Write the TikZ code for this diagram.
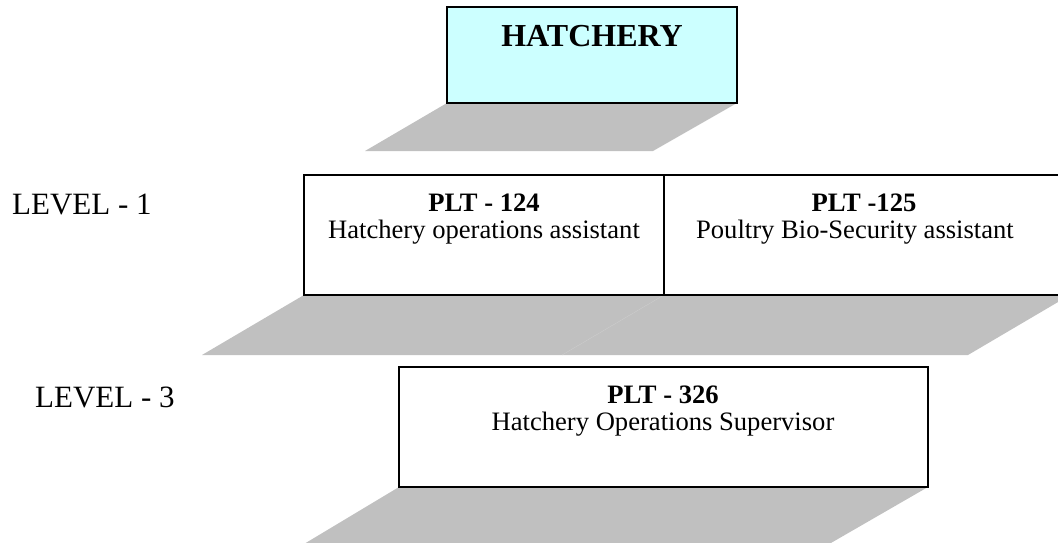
\documentclass[tikz,border=0pt]{standalone}
\usepackage{fontspec}
\setmainfont{Liberation Serif}
\usetikzlibrary{backgrounds}
\definecolor{hatchcyan}{RGB}{204,255,255}
\definecolor{shadegray}{RGB}{192,192,192}
\definecolor{seamgray}{RGB}{200,200,200}

\begin{document}
\begin{tikzpicture}[x=1pt,y=-1pt,
	box/.style={draw,line width=1.8pt,rectangle,inner sep=0,outer sep=0,anchor=north west},
	shade/.style={fill=shadegray},
	code/.style={font=\fontsize{26.6}{28}\selectfont\bfseries,anchor=base,inner sep=0},
	title/.style={font=\fontsize{26.6}{28}\selectfont,anchor=base,inner sep=0},
	level/.style={font=\fontsize{31}{34}\selectfont,anchor=base west,inner sep=0}]
	\useasboundingbox (0,0) rectangle (1058,543);
	\node[box,fill=hatchcyan,minimum width=290pt,minimum height=96pt] (hatchery) at (447,7) {};
	\node[box,minimum width=360pt,minimum height=120pt] (plt124) at (304,175) {};
	\node[box,minimum width=406pt,minimum height=120pt] (plt125) at (664,175) {};
	\node[box,minimum width=529pt,minimum height=120pt] (plt326) at (399,367) {};
	\node[font=\fontsize{32}{34}\selectfont\bfseries,anchor=base,inner sep=0] (hatcherytext) at (592,47) {HATCHERY};
	\node[code] (plt124code) at (484,211) {PLT - 124};
	\node[title] (plt124name) at (484,238) {Hatchery operations assistant};
	\node[code] (plt125code) at (864,211) {PLT -125};
	\node[title] (plt125name) at (855,238) {Poultry Bio-Security assistant};
	\node[code] (plt326code) at (663,403) {PLT - 326};
	\node[title] (plt326name) at (663,430) {Hatchery Operations Supervisor};
	\node[level] (levelone) at (12,214) {LEVEL - 1};
	\node[level] (levelthree) at (35,407) {LEVEL - 3};
	\begin{scope}[on background layer]
		\fill[shade] (hatchery.south west) -- (hatchery.south east) -- ++(-84,48) -- ([shift={(-82,48)}]hatchery.south west) -- cycle;
		\fill[shade] (plt124.south west) -- (plt124.south east) -- ++(-102,60) -- ([shift={(-102,60)}]plt124.south west) -- cycle;
		\fill[shade] (plt125.south west) -- (plt125.south east) -- ++(-102,60) -- ([shift={(-102,60)}]plt125.south west) -- cycle;
		\draw[line width=0.5pt,seamgray] (plt125.south west) -- ++(-102,60);
		\fill[shade] (plt326.south west) -- (plt326.south east) -- ++(-104,60) -- ([shift={(-100,60)}]plt326.south west) -- cycle;
	\end{scope}
\end{tikzpicture}
\end{document}
